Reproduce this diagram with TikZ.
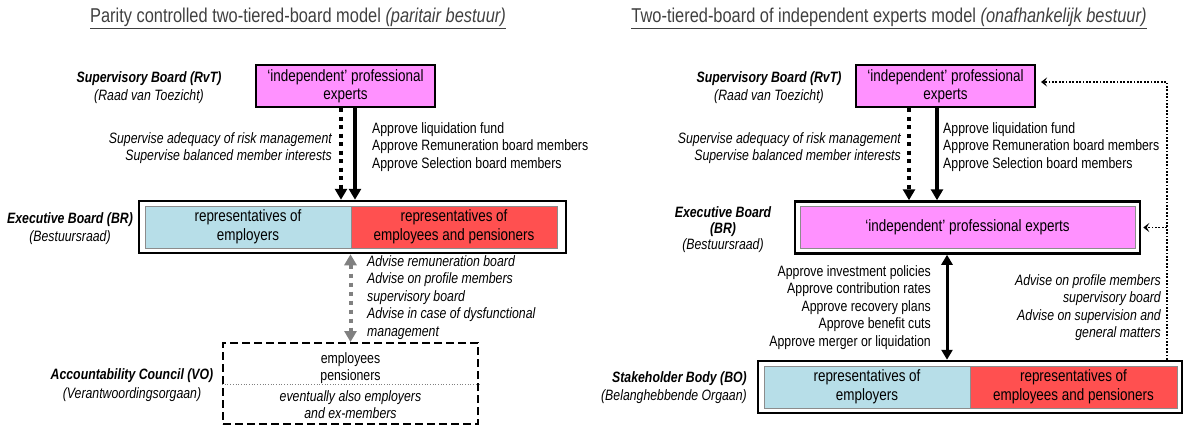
\documentclass[tikz,border=0pt]{standalone}
\usepackage{fontspec}
\setmainfont{Liberation Sans}[FakeStretch=0.82]
\usetikzlibrary{arrows.meta,calc}

\definecolor{expertpink}{RGB}{255,145,255}
\definecolor{employerblue}{RGB}{183,222,232}
\definecolor{employeered}{RGB}{255,80,80}

\begin{document}
\begin{tikzpicture}
[
	x=1pt,y=-1pt,
	every node/.style={inner sep=0pt,text=black},
	heading/.style={font=\fontsize{20}{24}\selectfont,text=black!75},
	organ/.style={font=\fontsize{15}{18}\selectfont\itshape,align=center},
	note/.style={font=\fontsize{15}{17.5}\selectfont},
	inote/.style={font=\fontsize{15}{17.5}\selectfont\itshape},
	expertbox/.style={draw,line width=2pt,fill=expertpink,align=center,font=\fontsize{16.4}{18}\selectfont,minimum width=179pt,minimum height=42pt},
	boardframe/.style={draw,line width=2.5pt,fill=white,minimum height=52pt},
	seatbox/.style={draw=black!45,line width=0.6pt,align=center,font=\fontsize{16.4}{19}\selectfont,minimum height=42pt},
	councilbox/.style={draw,line width=2pt,dash pattern=on 8pt off 4pt,minimum width=255pt,minimum height=81pt},
	superviselink/.style={line width=4pt,dash pattern=on 4pt off 4.5pt,-{Triangle[length=11pt,width=12pt]}},
	approvelink/.style={line width=4pt,-{Triangle[length=11pt,width=12pt]}},
	adviselink/.style={draw=black!50,line width=4pt,dash pattern=on 4pt off 5pt,{Triangle[length=11pt,width=12pt]}-{Triangle[length=11pt,width=12pt]}},
	stakelink/.style={line width=3pt,{Triangle[length=10pt,width=11pt]}-{Triangle[length=10pt,width=11pt]}},
	feedback/.style={line width=1.8pt,dash pattern=on 1.8pt off 1.6pt,-{Stealth[length=6pt,width=9pt,inset=2.5pt]}}
]
	\useasboundingbox (0,0) rectangle (1184,429);

	% parity controlled model
	\node[heading] (titleL) at (298,18) {\underline{Parity controlled two-tiered-board model \textit{(paritair bestuur)}}};

	\node[expertbox] (rvtL) at (345.5,86) {`independent' professional\\experts};
	\node[organ] (rvtLlabel) at (149,88) {\textbf{Supervisory Board (RvT)}\\(Raad van Toezicht)};

	\node[boardframe,minimum width=427pt] (brL) at (352.5,227) {};
	\node[seatbox,fill=employerblue,minimum width=206pt] (brLemp) at (248,227) {representatives of\\employers};
	\node[seatbox,fill=employeered,minimum width=206pt] (brLpen) at (454,227) {representatives of\\employees and pensioners};
	\node[organ] (brLlabel) at (70,229) {\textbf{Executive Board (BR)}\\(Bestuursraad)};

	\node[councilbox] (voL) at (350.5,383.5) {};
	\draw[black!50,line width=0.7pt,dotted] ($(voL.north west)!0.51!(voL.south west)$) -- ($(voL.north east)!0.51!(voL.south east)$);
	\node[note,align=center,font=\fontsize{15}{17}\selectfont] (voLmem) at (350.5,368.5) {employees\\pensioners};
	\node[inote,align=center,font=\fontsize{15}{17}\selectfont\itshape] (voLext) at (350.5,404.5) {eventually also employers\\and ex-members};
	\node[organ,font=\fontsize{15}{19}\selectfont\itshape] (voLlabel) at (132,385.5) {\textbf{Accountability Council (VO)}\\(Verantwoordingsorgaan)};

	\node[inote,anchor=east,align=right] (supL) at (332,148) {Supervise adequacy of risk management\\Supervise balanced member interests};
	\node[note,anchor=west,align=left] (aprL) at (372,147) {Approve liquidation fund\\Approve Remuneration board members\\Approve Selection board members};
	\node[inote,anchor=west,align=left] (advL) at (367,297.5) {Advise remuneration board\\Advise on profile members\\supervisory board\\Advise in case of dysfunctional\\management};

	\draw[superviselink] ([xshift=-4.5pt]rvtL.south) -- ([xshift=-4.5pt]rvtL.south |- brL.north);
	\draw[approvelink] ([xshift=9.5pt]rvtL.south) -- ([xshift=9.5pt]rvtL.south |- brL.north);
	\draw[adviselink] (voL.north |- brL.south) -- (voL.north);

	% independent experts model
	\node[heading] (titleR) at (889,18) {\underline{Two-tiered-board of independent experts model \textit{(onafhankelijk bestuur)}}};

	\node[expertbox] (rvtR) at (945.5,86) {`independent' professional\\experts};
	\node[organ] (rvtRlabel) at (769,88) {\textbf{Supervisory Board (RvT)}\\(Raad van Toezicht)};

	\node[boardframe,minimum width=345pt] (brR) at (967.5,227.5) {};
	\node[seatbox,fill=expertpink,minimum width=335pt] (brRexp) at (967.5,227.5) {`independent' professional experts};
	\node[organ,font=\fontsize{15}{16}\selectfont\itshape] (brRlabel) at (723,230) {\textbf{Executive Board}\\\textbf{(BR)}\\(Bestuursraad)};

	\node[boardframe,minimum width=424pt] (boR) at (970,387) {};
	\node[seatbox,fill=employerblue,minimum width=206pt] (boRemp) at (867,387) {representatives of\\employers};
	\node[seatbox,fill=employeered,minimum width=207pt] (boRpen) at (1073.5,387) {representatives of\\employees and pensioners};
	\node[organ,align=right,anchor=east,font=\fontsize{15}{18.5}\selectfont\itshape] (boRlabel) at (747,387.5) {\textbf{Stakeholder Body (BO)}\\(Belanghebbende Orgaan)};

	\node[inote,anchor=east,align=right] (supR) at (901,148) {Supervise adequacy of risk management\\Supervise balanced member interests};
	\node[note,anchor=west,align=left] (aprR) at (943,147) {Approve liquidation fund\\Approve Remuneration board members\\Approve Selection board members};
	\node[note,anchor=east,align=right] (aprRbo) at (931,307.5) {Approve investment policies\\Approve contribution rates\\Approve recovery plans\\Approve benefit cuts\\Approve merger or liquidation};
	\node[inote,anchor=east,align=right] (advR) at (1161,307.5) {Advise on profile members\\supervisory board\\Advise on supervision and\\general matters};

	\draw[superviselink] ([xshift=-36.5pt]rvtR.south) -- ([xshift=-36.5pt]rvtR.south |- brR.north);
	\draw[approvelink] ([xshift=-8.5pt]rvtR.south) -- ([xshift=-8.5pt]rvtR.south |- brR.north);
	\draw[stakelink] ([xshift=-20.5pt]brR.south) -- ([xshift=-20.5pt]brR.south |- boR.north);
	\draw[feedback] ([xshift=197pt]boR.north) |- ([xshift=5pt,yshift=4pt]rvtR.east);
	\draw[feedback] ([xshift=197pt]boR.north |- brR.east) -- ([xshift=2pt]brR.east);

\end{tikzpicture}
\end{document}
